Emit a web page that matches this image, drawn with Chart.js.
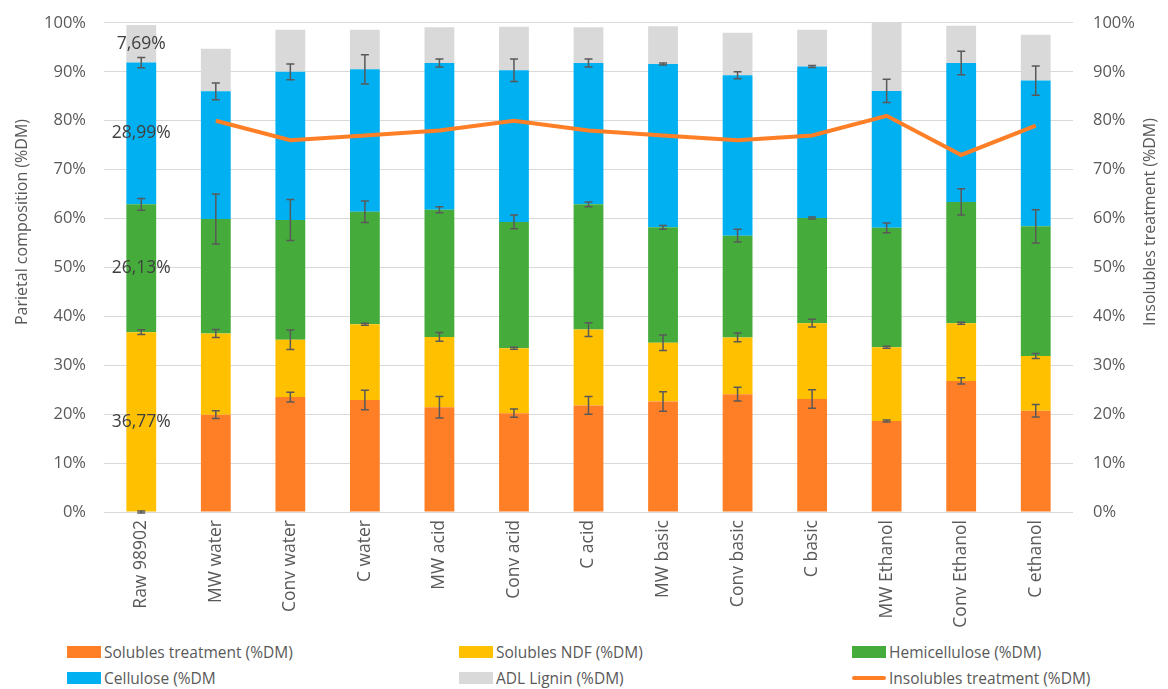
<!DOCTYPE html>
<html>
<head>
<meta charset="utf-8">
<script src="https://cdn.jsdelivr.net/npm/chart.js@4"></script>
<style>
    body { margin: 0; background: #fff; font-family: "Open Sans", sans-serif; }
    #wrap { position: relative; width: 1168px; height: 689px; overflow: hidden; }
    #chart { position: absolute; left: 0; top: -7px; }
    #legend { position: absolute; left: 0; top: 641px; width: 1168px; height: 48px; }
    .item { position: absolute; display: flex; align-items: center; font-size: 15.5px; color: #595959; white-space: nowrap; }
    .box { width: 34px; height: 12px; margin-right: 3px; }
    .ln { width: 34px; height: 4px; margin-right: 3px; border-radius: 2px; }
</style>
</head>
<body>
<div id="wrap">
    <canvas id="chart" width="1168" height="639"></canvas>
    <div id="legend"></div>
</div>
<script>
const labels = ['Raw 98902', 'MW water', 'Conv water', 'C water', 'MW acid', 'Conv acid', 'C acid',
    'MW basic', 'Conv basic', 'C basic', 'MW Ethanol', 'Conv Ethanol', 'C ethanol'];

// stacked segments (%DM)
const solublesTreatment = [0, 19.9, 23.5, 22.9, 21.4, 20.2, 21.8, 22.6, 24.1, 23.1, 18.6, 26.8, 20.7];
const solublesNDF = [36.77, 16.6, 11.7, 15.5, 14.4, 13.3, 15.5, 12.0, 11.6, 15.5, 15.1, 11.8, 11.2];
const hemicellulose = [26.13, 23.4, 24.5, 23.0, 26.0, 25.8, 25.6, 23.6, 20.8, 21.5, 24.4, 24.8, 26.5];
const cellulose = [28.99, 26.1, 30.3, 29.1, 30.0, 31.0, 28.9, 33.4, 32.8, 31.0, 28.0, 28.4, 29.8];
const adlLignin = [7.69, 8.7, 8.6, 8.1, 7.3, 8.9, 7.3, 7.7, 8.7, 7.5, 13.9, 7.6, 9.4];

// error bars (+/-) at the top of each segment
const errST = [0.2, 0.8, 1.0, 2.0, 2.2, 0.85, 1.8, 2.0, 1.4, 1.9, 0.2, 0.65, 1.3];
const errNDF = [0.5, 0.8, 2.0, 0.2, 0.9, 0.2, 1.4, 1.6, 0.9, 0.8, 0.2, 0.2, 0.5];
const errHemi = [1.2, 5.1, 4.2, 2.2, 0.6, 1.4, 0.5, 0.4, 1.3, 0.2, 1.0, 2.7, 3.4];
const errCell = [1.05, 1.7, 1.6, 3.0, 0.8, 2.3, 0.8, 0.2, 0.7, 0.2, 2.4, 2.4, 3.0];

// right axis line
const insolubles = [null, 80, 76, 77, 78, 80, 78, 77, 76, 77, 81, 73, 79];

const yTicks = [0, 10, 20, 30, 40, 50, 60, 70, 80, 90, 100];

const FONT = '"Open Sans", sans-serif';
const TXT = '#595959';

const errSets = [errST, errNDF, errHemi, errCell];

// draws the error bars just before the line, so the line stays on top
const errorBars = {
    id: 'errorBars',
    beforeDatasetDraw(chart, args) {
        if (args.index !== 5) return;
        const ctx = chart.ctx;
        const y = chart.scales.y;
        ctx.save();
        ctx.strokeStyle = '#595959';
        ctx.lineWidth = 1.5;
        errSets.forEach((errs, di) => {
            const meta = chart.getDatasetMeta(di);
            meta.data.forEach((bar, j) => {
                let cum = 0;
                for (let k = 0; k <= di; k++) cum += chart.data.datasets[k].data[j];
                const e = errs[j];
                const y1 = y.getPixelForValue(cum + e);
                const y2 = y.getPixelForValue(cum - e);
                ctx.beginPath();
                ctx.moveTo(bar.x, y1); ctx.lineTo(bar.x, y2);
                ctx.moveTo(bar.x - 4, y1); ctx.lineTo(bar.x + 4, y1);
                ctx.moveTo(bar.x - 4, y2); ctx.lineTo(bar.x + 4, y2);
                ctx.stroke();
            });
        });
        ctx.restore();
    }
};

// value labels on the raw sample bar
const rawLabels = {
    id: 'rawLabels',
    afterDatasetsDraw(chart) {
        const ctx = chart.ctx;
        ctx.save();
        ctx.font = '17.5px ' + FONT;
        ctx.fillStyle = '#404040';
        ctx.textAlign = 'center';
        ctx.textBaseline = 'middle';
        for (let di = 0; di < 5; di++) {
            const v = chart.data.datasets[di].data[0];
            if (!v) continue;
            const bar = chart.getDatasetMeta(di).data[0];
            ctx.fillText(v.toFixed(2).replace('.', ',') + '%', bar.x, (bar.y + bar.base) / 2);
        }
        ctx.restore();
    }
};

// both axis titles read bottom-to-top and sit a bit above the plot centre
const axisTitles = {
    id: 'axisTitles',
    afterDraw(chart) {
        const ctx = chart.ctx;
        ctx.save();
        ctx.font = '16px ' + FONT;
        ctx.fillStyle = TXT;
        ctx.textAlign = 'center';
        ctx.textBaseline = 'middle';
        [[22, 'Parietal composition (%DM)'], [1150, 'Insolubles treatment (%DM)']].forEach(([x, t]) => {
            ctx.save();
            ctx.translate(x, 229);
            ctx.rotate(-Math.PI / 2);
            ctx.fillText(t, 0, 0);
            ctx.restore();
        });
        ctx.restore();
    }
};

const barOpts = { stack: 's', order: 1, barPercentage: 0.8, categoryPercentage: 0.5, borderWidth: 0 };

new Chart(document.getElementById('chart'), {
    type: 'bar',
    data: {
        labels: labels,
        datasets: [
            { label: 'Solubles treatment (%DM)', data: solublesTreatment, backgroundColor: '#FF7F27', ...barOpts },
            { label: 'Solubles NDF (%DM)', data: solublesNDF, backgroundColor: '#FFC000', ...barOpts },
            { label: 'Hemicellulose (%DM)', data: hemicellulose, backgroundColor: '#45AC3B', ...barOpts },
            { label: 'Cellulose (%DM', data: cellulose, backgroundColor: '#00B0F0', ...barOpts },
            { label: 'ADL Lignin (%DM)', data: adlLignin, backgroundColor: '#D9D9D9', ...barOpts },
            {
                type: 'line', label: 'Insolubles treatment (%DM)', data: insolubles, yAxisID: 'y1', order: 0,
                borderColor: '#FF7F27', borderWidth: 4, pointRadius: 0, tension: 0, fill: false
            }
        ]
    },
    options: {
        responsive: false,
        animation: false,
        layout: { padding: { top: 15, left: 0, right: 0, bottom: 0 } },
        plugins: { legend: { display: false }, tooltip: { enabled: false } },
        scales: {
            x: {
                stacked: true,
                grid: { display: false, drawTicks: false },
                border: { display: false },
                ticks: { color: TXT, font: { family: FONT, size: 17.5 }, minRotation: 90, maxRotation: 90, padding: 8 },
                afterFit: s => { s.height = 120; }
            },
            y: {
                stacked: true, min: 0, max: 100,
                afterBuildTicks: s => { s.ticks = yTicks.map(v => ({ value: v })); },
                grid: { color: '#D9D9D9', lineWidth: 1, drawTicks: false },
                border: { display: false },
                ticks: { color: TXT, font: { family: FONT, size: 16.5 }, padding: 18, callback: v => v + '%' },
                afterFit: s => { s.width = 104; }
            },
            y1: {
                position: 'right', min: 0, max: 100,
                afterBuildTicks: s => { s.ticks = yTicks.map(v => ({ value: v })); },
                grid: { display: false, drawTicks: false },
                border: { display: false },
                ticks: { color: TXT, font: { family: FONT, size: 16.5 }, padding: 20, callback: v => v + '%' },
                afterFit: s => { s.width = 95; }
            }
        }
    },
    plugins: [errorBars, rawLabels, axisTitles]
});

// legend, three columns by two rows
const legendItems = [
    { text: 'Solubles treatment (%DM)', color: '#FF7F27', x: 67, y: 0 },
    { text: 'Solubles NDF (%DM)', color: '#FFC000', x: 459, y: 0 },
    { text: 'Hemicellulose (%DM)', color: '#45AC3B', x: 852, y: 0 },
    { text: 'Cellulose (%DM', color: '#00B0F0', x: 67, y: 26 },
    { text: 'ADL Lignin (%DM)', color: '#D9D9D9', x: 459, y: 26 },
    { text: 'Insolubles treatment (%DM)', color: '#FF7F27', x: 852, y: 26, line: true }
];
const legend = document.getElementById('legend');
legendItems.forEach(it => {
    const d = document.createElement('div');
    d.className = 'item';
    d.style.left = it.x + 'px';
    d.style.top = it.y + 'px';
    d.innerHTML = `<span class="${it.line ? 'ln' : 'box'}" style="background:${it.color}"></span>${it.text}`;
    legend.appendChild(d);
});
</script>
</body>
</html>
